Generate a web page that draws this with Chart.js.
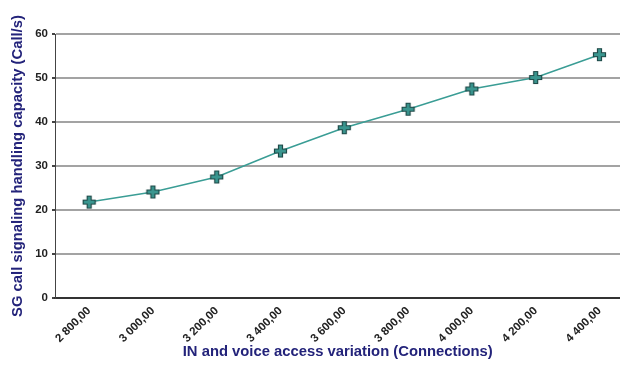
<!DOCTYPE html>
<html>
<head>
<meta charset="utf-8">
<script src="https://cdn.jsdelivr.net/npm/chart.js@4"></script>
<style>
html,body{margin:0;padding:0;background:#fff;overflow:hidden;}
#wrap{width:620px;height:371px;position:relative;overflow:hidden;}
</style>
</head>
<body>
<div id="wrap"><canvas id="c" width="629" height="371"></canvas></div>
<script>
const categories = [2800, 3000, 3200, 3400, 3600, 3800, 4000, 4200, 4400];
const tickLabels = ["2 800,00", "3 000,00", "3 200,00", "3 400,00", "3 600,00", "3 800,00", "4 000,00", "4 200,00", "4 400,00"];
const capacity = [21.8, 24.1, 27.5, 33.4, 38.7, 42.9, 47.5, 50.1, 55.3];
const yTicks = [0, 10, 20, 30, 40, 50, 60];

function plusMarker() {
  const c = document.createElement('canvas');
  c.width = 15; c.height = 15;
  const g = c.getContext('2d');
  const a = 5, b = 2, m = 7.5;
  g.beginPath();
  g.moveTo(m - b, m - a - b + 1);
  g.lineTo(m + b, m - a - b + 1);
  g.lineTo(m + b, m - b);
  g.lineTo(m + a + b - 1, m - b);
  g.lineTo(m + a + b - 1, m + b);
  g.lineTo(m + b, m + b);
  g.lineTo(m + b, m + a + b - 1);
  g.lineTo(m - b, m + a + b - 1);
  g.lineTo(m - b, m + b);
  g.lineTo(m - a - b + 1, m + b);
  g.lineTo(m - a - b + 1, m - b);
  g.lineTo(m - b, m - b);
  g.closePath();
  g.fillStyle = '#3a968f';
  g.fill();
  g.lineWidth = 1.2;
  g.strokeStyle = '#1f4a48';
  g.stroke();
  return c;
}

const data = categories.map((x, i) => ({x: x, y: capacity[i]}));
const FONT = "'Liberation Sans', Arial, sans-serif";

new Chart(document.getElementById('c'), {
  type: 'line',
  data: {
    datasets: [{
      data: data,
      borderColor: '#3a9d95',
      borderWidth: 1.5,
      pointStyle: plusMarker(),
      pointRadius: 7,
      tension: 0
    }]
  },
  options: {
    responsive: false,
    animation: false,
    layout: {padding: {top: 34, right: 0, bottom: 0, left: 0}},
    plugins: {legend: {display: false}, tooltip: {enabled: false}},
    scales: {
      x: {
        type: 'linear',
        min: 2693,
        max: 4466,
        afterBuildTicks: s => { s.ticks = categories.map(v => ({value: v})); },
        afterFit: s => { s.height = 73; },
        grid: {display: false},
        border: {color: '#333', width: 2},
        ticks: {
          autoSkip: false,
          minRotation: 45,
          maxRotation: 45,
          padding: -2,
          color: '#222',
          font: {family: FONT, size: 11.5, weight: 'bold'},
          callback: (v, i) => tickLabels[i]
        },
        title: {
          display: true,
          text: 'IN and voice access variation (Connections)',
          color: '#23237a',
          font: {family: FONT, size: 14.8, weight: 'bold'},
          padding: {top: 0, bottom: 10}
        }
      },
      y: {
        min: 0,
        max: 60,
        afterBuildTicks: s => { s.ticks = yTicks.map(v => ({value: v})); },
        afterFit: s => { s.width = 55; },
        grid: {
          color: ctx => ctx.tick && ctx.tick.value === 0 ? 'rgba(0,0,0,0)' : '#a3a3a3',
          lineWidth: 2,
          drawTicks: true,
          tickLength: 3,
          tickColor: '#444'
        },
        border: {color: '#444', width: 1},
        ticks: {
          padding: 4,
          color: '#222',
          font: {family: FONT, size: 11.5, weight: 'bold'}
        },
        title: {
          display: true,
          text: 'SG call signaling handling capacity (Call/s)',
          color: '#23237a',
          font: {family: FONT, size: 14.8, weight: 'bold'},
          padding: {top: 9, bottom: 0}
        }
      }
    }
  }
});
</script>
</body>
</html>
